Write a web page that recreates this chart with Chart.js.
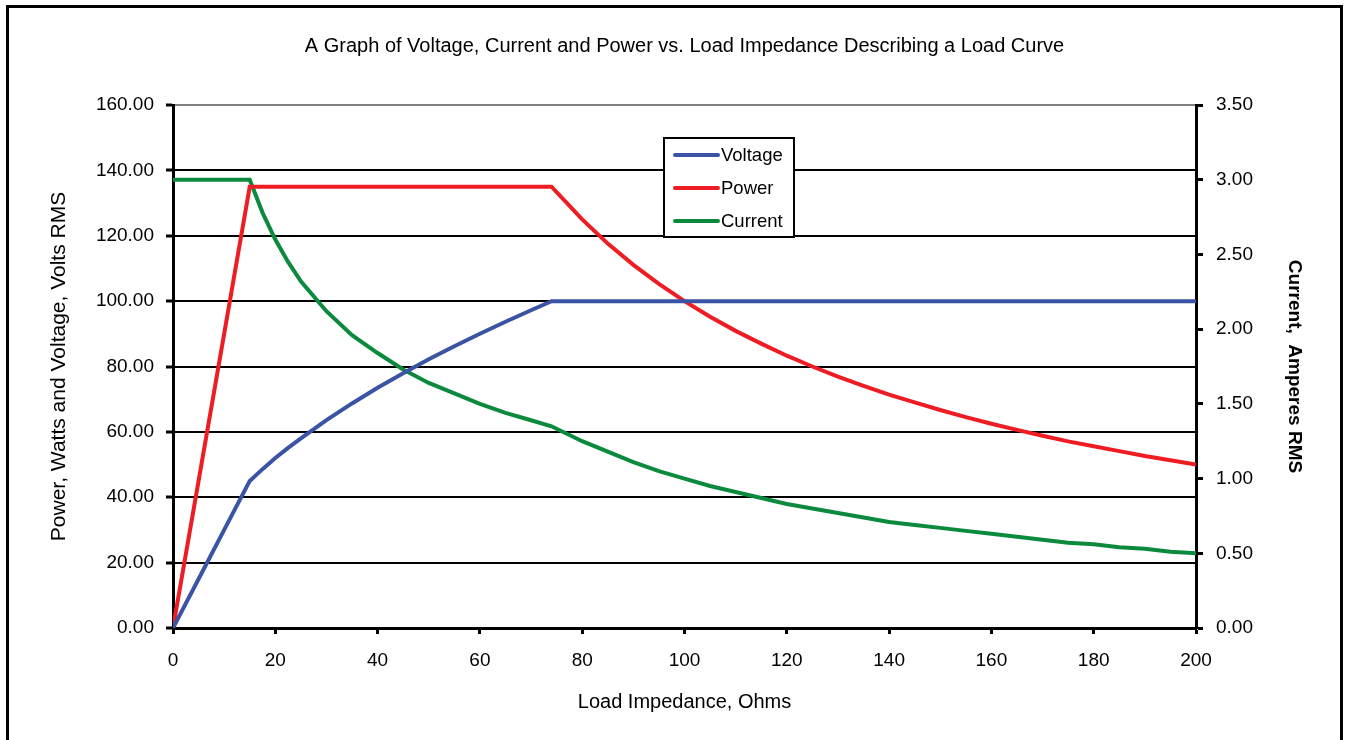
<!DOCTYPE html>
<html>
<head>
<meta charset="utf-8">
<title>Load Curve</title>
<script src="https://cdn.jsdelivr.net/npm/chart.js@4/dist/chart.umd.min.js"></script>
<style>
  html, body { margin: 0; padding: 0; background: #fff; overflow: hidden; }
  #wrap { position: relative; width: 1346px; height: 740px; }
  #frame {
    position: absolute; left: 6px; top: 5px; width: 1337px; height: 800px;
    box-sizing: border-box; border: 3px solid #000; pointer-events: none;
  }
</style>
</head>
<body>
<div id="wrap">
  <canvas id="chart"></canvas>
  <div id="frame"></div>
</div>
<script>
// load impedance in ohms (x axis)
const impedance = [0, 5, 10, 15, 17.5, 20, 22.5, 25, 30, 35, 40, 45, 50, 55, 60, 65, 70, 74,
  80, 85, 90, 95, 100, 105, 110, 115, 120, 125, 130, 135, 140, 145, 150, 155,
  160, 165, 170, 175, 180, 185, 190, 195, 200];

// volts RMS (left axis)
const voltage = [0, 15, 30, 45, 48.6, 52, 55.1, 58, 63.6, 68.7, 73.5, 77.9, 82.2, 86.2, 90, 93.7, 97.2, 100,
  100, 100, 100, 100, 100, 100, 100, 100, 100, 100, 100, 100, 100, 100, 100, 100,
  100, 100, 100, 100, 100, 100, 100, 100, 100];

// watts (left axis)
const power = [0, 45, 90, 135, 135, 135, 135, 135, 135, 135, 135, 135, 135, 135, 135, 135, 135, 135,
  125, 117.6, 111.1, 105.3, 100, 95.2, 90.9, 87, 83.3, 80, 76.9, 74.1, 71.4, 69, 66.7, 64.5,
  62.5, 60.6, 58.8, 57.1, 55.6, 54.1, 52.6, 51.3, 50];

// amperes RMS (right axis)
const current = [3, 3, 3, 3, 2.78, 2.6, 2.45, 2.32, 2.12, 1.96, 1.84, 1.73, 1.64, 1.57, 1.5, 1.44, 1.39, 1.35,
  1.25, 1.18, 1.11, 1.05, 1, 0.95, 0.91, 0.87, 0.83, 0.8, 0.77, 0.74, 0.71, 0.69, 0.67, 0.65,
  0.63, 0.61, 0.59, 0.57, 0.56, 0.54, 0.53, 0.51, 0.5];

const FONT = "'Liberation Sans', Arial, sans-serif";

function toPoints(values) {
  return impedance.map((x, i) => ({ x: x, y: values[i] }));
}

// legend box drawn inside the plot, like the original
const boxLegend = {
  id: "boxLegend",
  afterDatasetsDraw(chart) {
    const ctx = chart.ctx;
    const left = 664, top = 138, w = 130, h = 99;
    ctx.save();
    ctx.fillStyle = "#fff";
    ctx.fillRect(left, top, w, h);
    ctx.lineWidth = 2;
    ctx.strokeStyle = "#000";
    ctx.strokeRect(left, top, w, h);
    ctx.font = "18.5px " + FONT;
    ctx.textBaseline = "middle";
    ctx.textAlign = "left";
    chart.data.datasets.forEach((ds, i) => {
      const y = top + 17 + i * 33;
      ctx.strokeStyle = ds.borderColor;
      ctx.lineWidth = 4;
      ctx.lineCap = "round";
      ctx.beginPath();
      ctx.moveTo(left + 11, y);
      ctx.lineTo(left + 54, y);
      ctx.stroke();
      ctx.fillStyle = "#000";
      ctx.fillText(ds.label, left + 57, y + 1);
    });
    ctx.restore();
  },
};

const ctx = document.getElementById("chart");
new Chart(ctx, {
  type: "line",
  data: {
    datasets: [
      { label: "Voltage", data: toPoints(voltage), borderColor: "#3A53A4", yAxisID: "y" },
      { label: "Power", data: toPoints(power), borderColor: "#EE1D23", yAxisID: "y" },
      { label: "Current", data: toPoints(current), borderColor: "#0B8A3E", yAxisID: "y1" },
    ],
  },
  options: {
    responsive: true,
    maintainAspectRatio: false,
    animation: false,
    events: [],
    layout: { padding: 0 },
    elements: {
      line: { borderWidth: 4, tension: 0, fill: false },
      point: { radius: 0 },
    },
    plugins: {
      legend: { display: false },
      tooltip: { enabled: false },
      title: {
        display: true,
        fullSize: false,
        text: "A Graph of Voltage, Current and Power vs. Load Impedance Describing a Load Curve",
        color: "#000",
        font: { family: FONT, size: 20, weight: "normal" },
        padding: { top: 34, bottom: 47 },
      },
    },
    scales: {
      x: {
        type: "linear",
        position: "bottom",
        min: 0,
        max: 200,
        afterFit: (scale) => { scale.height = 112; },
        ticks: {
          stepSize: 20,
          color: "#000",
          font: { family: FONT, size: 19 },
          padding: 15,
          maxRotation: 0,
        },
        grid: {
          drawOnChartArea: false,
          drawTicks: true,
          tickLength: 6,
          tickWidth: 3,
          tickColor: "#000",
        },
        border: { display: true, color: "#000", width: 3 },
        title: {
          display: true,
          text: "Load Impedance, Ohms",
          color: "#000",
          font: { family: FONT, size: 20 },
          padding: { top: 0, bottom: 26 },
        },
      },
      y: {
        position: "left",
        min: 0,
        max: 160,
        afterFit: (scale) => { scale.width = 173; },
        ticks: {
          stepSize: 20,
          color: "#000",
          font: { family: FONT, size: 19 },
          padding: 12,
          callback: (value) => value.toFixed(2),
        },
        grid: {
          color: (c) => (c.tick && c.tick.value === 160 ? "#808080" : "#000"),
          lineWidth: 2,
          tickLength: 7,
          tickWidth: 3,
          tickColor: "#000",
        },
        border: { display: true, color: "#000", width: 3 },
        title: {
          display: true,
          text: "Power, Watts and Voltage, Volts RMS",
          color: "#000",
          font: { family: FONT, size: 21 },
          padding: { top: 47, bottom: 0 },
        },
      },
      y1: {
        position: "right",
        min: 0,
        max: 3.5,
        afterFit: (scale) => { scale.width = 150; },
        ticks: {
          stepSize: 0.5,
          color: "#000",
          font: { family: FONT, size: 19 },
          padding: 13,
          callback: (value) => value.toFixed(2),
        },
        grid: {
          drawOnChartArea: false,
          tickLength: 7,
          tickWidth: 3,
          tickColor: "#000",
        },
        border: { display: true, color: "#000", width: 3 },
        title: {
          display: true,
          text: "Current,  Amperes RMS",
          color: "#000",
          font: { family: FONT, size: 19, weight: "bold" },
          padding: { top: 40, bottom: 0 },
        },
      },
    },
  },
  plugins: [boxLegend],
});
</script>
</body>
</html>
